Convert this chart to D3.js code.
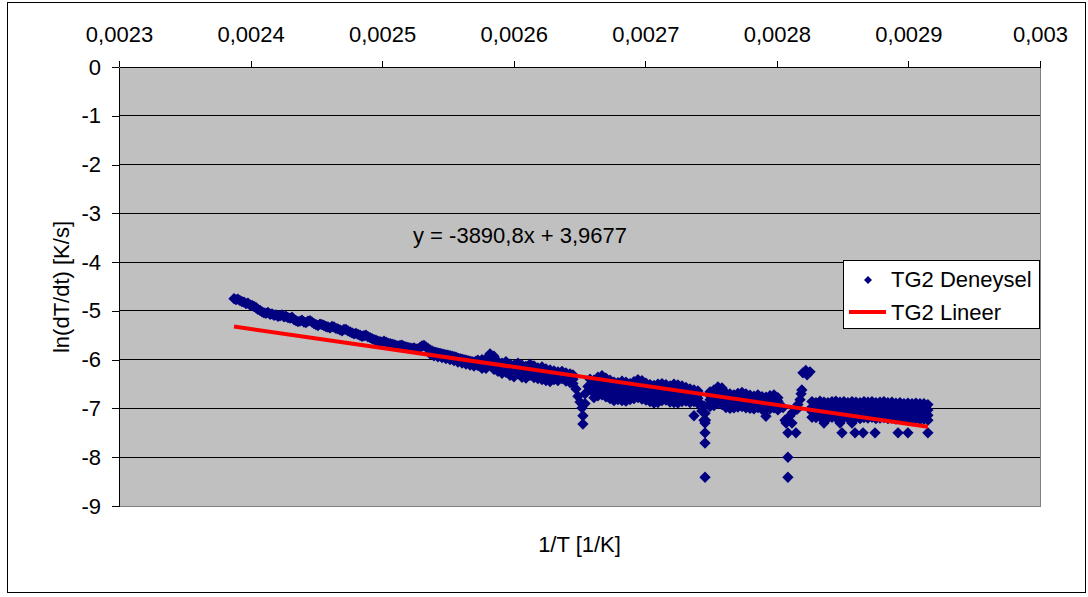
<!DOCTYPE html>
<html lang="tr">
<head>
  <meta charset="UTF-8">
  <title>TG2 ln(dT/dt) - 1/T</title>
  <style>
    body { margin: 0; background: #fff; }
    svg { display: block; font-family: Arial, "Liberation Sans", sans-serif; }
    .axis text { font-size: 22px; fill: #000; }
    .axis path, .axis line { stroke: #000; shape-rendering: crispEdges; }
    .grid line { stroke: #000; shape-rendering: crispEdges; }
    .title { font-size: 22px; fill: #000; }
  </style>
</head>
<body>
  <svg width="1088" height="597"></svg>

  <script src="https://d3js.org/d3.v7.min.js"></script>
  <script>
    // data: [1/T, ln(dT/dt) readings ...]
    const deneysel = [
      [0.0023874,-4.75],[0.0023889,-4.77],[0.0023904,-4.76],[0.0023920,-4.79],[0.0023935,-4.81],[0.0023950,-4.82],
      [0.0023965,-4.85],[0.0023980,-4.84],[0.0023996,-4.88],[0.0024011,-4.89],[0.0024026,-4.91],[0.0024041,-4.93],
      [0.0024056,-4.97],[0.0024072,-4.99],[0.0024087,-5.02],[0.0024102,-5.04],[0.0024117,-5.05],[0.0024132,-5.03],
      [0.0024148,-5.07],[0.0024163,-5.06],[0.0024178,-5.09],[0.0024193,-5.08],[0.0024208,-5.11],[0.0024224,-5.10],
      [0.0024239,-5.08],[0.0024254,-5.12],[0.0024269,-5.11],[0.0024284,-5.14],[0.0024300,-5.15],[0.0024315,-5.13],
      [0.0024330,-5.18],[0.0024345,-5.20],[0.0024360,-5.22],[0.0024376,-5.21],[0.0024391,-5.19],[0.0024406,-5.23],
      [0.0024421,-5.24],[0.0024436,-5.21],[0.0024452,-5.20],[0.0024467,-5.23],[0.0024482,-5.26],[0.0024497,-5.28],
      [0.0024512,-5.30],[0.0024528,-5.27],[0.0024543,-5.28],[0.0024558,-5.30],[0.0024573,-5.32],[0.0024588,-5.33],
      [0.0024604,-5.35],[0.0024619,-5.32],[0.0024634,-5.33],[0.0024649,-5.36],[0.0024664,-5.37],[0.0024680,-5.39],
      [0.0024695,-5.41],[0.0024710,-5.38],[0.0024725,-5.38],[0.0024740,-5.41],[0.0024756,-5.43],[0.0024771,-5.45],
      [0.0024786,-5.47],[0.0024801,-5.46],[0.0024816,-5.48],[0.0024832,-5.50],[0.0024847,-5.52],[0.0024862,-5.51],
      [0.0024877,-5.50],[0.0024892,-5.53],[0.0024908,-5.55],[0.0024923,-5.57],[0.0024938,-5.59],[0.0024953,-5.60],
      [0.0024968,-5.62],[0.0024984,-5.63],[0.0024999,-5.64],[0.0025014,-5.62],[0.0025029,-5.64],[0.0025044,-5.66],
      [0.0025060,-5.67],[0.0025075,-5.68],[0.0025090,-5.69],[0.0025105,-5.71],[0.0025120,-5.72],[0.0025136,-5.71],
      [0.0025151,-5.70],[0.0025166,-5.73],[0.0025181,-5.74],[0.0025196,-5.75],[0.0025212,-5.76],[0.0025227,-5.77],
      [0.0025242,-5.76],[0.0025257,-5.78],[0.0025272,-5.78],[0.0025288,-5.75],[0.0025303,-5.72],[0.0025318,-5.71],
      [0.0025333,-5.74],[0.0025348,-5.77],[0.0025364,-5.80,-5.88],[0.0025379,-5.82],[0.0025394,-5.84,-5.92],
      [0.0025409,-5.85],[0.0025424,-5.86,-5.94],[0.0025440,-5.87],[0.0025455,-5.88,-5.96],[0.0025470,-5.89],
      [0.0025485,-5.90,-5.98],[0.0025500,-5.91],[0.0025516,-5.92,-6.00],[0.0025531,-5.93],[0.0025546,-5.94,-6.02],
      [0.0025561,-5.95],[0.0025576,-5.97,-6.05],[0.0025592,-5.98],[0.0025607,-5.99,-6.07],[0.0025622,-6.00],
      [0.0025637,-6.01,-6.09],[0.0025652,-6.02],[0.0025668,-6.03,-6.11],[0.0025683,-6.04],[0.0025698,-6.05,-6.13],
      [0.0025713,-6.03],[0.0025728,-6.01,-6.12],[0.0025744,-6.04],[0.0025759,-6.00,-6.18],
      [0.0025789,-5.98,-6.08,-6.18],[0.0025820,-5.88,-6.00,-6.10],[0.0025850,-5.93,-6.06,-6.20],[0.0025880,-6.04,-6.14,-6.24],
      [0.0025911,-6.07,-6.18,-6.28],[0.0025941,-6.04,-6.15,-6.26],[0.0025972,-6.09,-6.20,-6.32],[0.0026002,-6.11,-6.23,-6.35],
      [0.0026032,-6.07,-6.18,-6.29],[0.0026063,-6.11,-6.24,-6.36],[0.0026093,-6.14,-6.26,-6.38],[0.0026124,-6.09,-6.21,-6.32],
      [0.0026154,-6.13,-6.25,-6.37],[0.0026184,-6.17,-6.28,-6.39],[0.0026215,-6.15,-6.28,-6.41],[0.0026245,-6.19,-6.31,-6.43],
      [0.0026276,-6.21,-6.33,-6.45],[0.0026306,-6.23,-6.32,-6.41],[0.0026336,-6.25,-6.34,-6.43],[0.0026367,-6.24,-6.32,-6.39],
      [0.0026397,-6.27,-6.36,-6.44],[0.0026428,-6.29,-6.38,-6.47],[0.0026450,-6.31,-6.40,-6.49],
      [0.0026473,-6.60],[0.0026488,-6.75],[0.0026504,-6.87],[0.0026519,-6.99],[0.0026526,-7.15,-7.32],
      [0.0026542,-6.90,-6.70],[0.0026564,-6.55],[0.0026580,-6.40,-6.60],
      [0.0026610,-6.42,-6.51,-6.60,-6.69,-6.78],[0.0026640,-6.36,-6.46,-6.55,-6.65,-6.74],[0.0026671,-6.33,-6.43,-6.52,-6.62,-6.72],
      [0.0026701,-6.38,-6.48,-6.57,-6.67,-6.76],[0.0026732,-6.42,-6.52,-6.62,-6.71,-6.80],[0.0026762,-6.46,-6.55,-6.64,-6.74,-6.84],
      [0.0026792,-6.47,-6.57,-6.66,-6.74,-6.82],[0.0026823,-6.44,-6.54,-6.63,-6.74,-6.84],[0.0026853,-6.46,-6.56,-6.65,-6.75,-6.85],
      [0.0026884,-6.49,-6.58,-6.67,-6.75,-6.82],[0.0026914,-6.45,-6.54,-6.63,-6.72,-6.80],[0.0026944,-6.41,-6.51,-6.60,-6.69,-6.78],
      [0.0026975,-6.43,-6.53,-6.62,-6.72,-6.81],[0.0027005,-6.48,-6.57,-6.66,-6.75,-6.83],[0.0027036,-6.51,-6.60,-6.68,-6.77,-6.86],
      [0.0027066,-6.53,-6.62,-6.71,-6.80,-6.89],[0.0027096,-6.50,-6.60,-6.69,-6.79,-6.88],[0.0027127,-6.49,-6.58,-6.67,-6.76,-6.84],
      [0.0027157,-6.51,-6.60,-6.69,-6.76,-6.83],[0.0027188,-6.54,-6.63,-6.72,-6.80,-6.87],[0.0027218,-6.50,-6.59,-6.68,-6.78,-6.88],
      [0.0027248,-6.52,-6.61,-6.70,-6.80,-6.89],[0.0027279,-6.54,-6.63,-6.72,-6.79,-6.86],[0.0027309,-6.57,-6.66,-6.74,-6.80,-6.85],
      [0.0027340,-6.60,-6.68,-6.76,-6.82,-6.88],[0.0027370,-6.62,-6.70,-6.78,-6.86,-7.15],[0.0027400,-6.64,-6.72,-6.79,-6.85,-6.90],
      [0.0027430,-7.05],[0.0027446,-6.95,-7.24],[0.0027454,-7.10,-7.30,-7.50,-7.71,-8.41],[0.0027458,-7.24],
      [0.0027492,-6.66,-6.74,-6.82,-6.89,-6.96],[0.0027522,-6.62,-6.70,-6.79,-6.87,-6.94],[0.0027552,-6.56,-6.64,-6.72,-6.81,-6.90],
      [0.0027583,-6.58,-6.67,-6.75,-6.84,-6.92],[0.0027613,-6.68,-6.76,-6.84,-6.91,-6.98],[0.0027644,-6.70,-6.78,-6.86,-6.93,-7.00],
      [0.0027674,-6.72,-6.80,-6.87,-6.93,-6.99],[0.0027704,-6.69,-6.77,-6.84,-6.91,-6.97],[0.0027735,-6.67,-6.75,-6.83,-6.90,-6.96],
      [0.0027765,-6.70,-6.78,-6.85,-6.92,-6.99],[0.0027796,-6.73,-6.81,-6.88,-6.94,-7.00],[0.0027826,-6.75,-6.82,-6.89,-6.95,-7.01],
      [0.0027856,-6.72,-6.80,-6.87,-6.93,-6.98],[0.0027887,-6.76,-6.83,-6.90,-6.96,-7.02],[0.0027917,-6.77,-6.84,-6.91,-7.00,-7.16],
      [0.0027948,-6.74,-6.81,-6.88,-6.95,-7.01],[0.0027978,-6.72,-6.79,-6.86,-6.93,-6.99],[0.0028008,-6.78,-6.85,-6.92,-6.98,-7.03],
      [0.0028047,-6.98],[0.0028062,-7.24],[0.0028070,-7.30],[0.0028084,-7.50,-8.00,-8.41],[0.0028100,-7.15],
      [0.0028115,-7.30],[0.0028120,-7.08],[0.0028145,-7.50],[0.0028153,-7.02],[0.0028160,-6.92],
      [0.0028176,-6.82],[0.0028184,-6.70],[0.0028190,-6.62],[0.0028198,-6.27],[0.0028220,-6.22],
      [0.0028252,-6.25],[0.0028230,-6.31],
      [0.0028267,-6.86,-6.97,-7.07,-7.18],[0.0028297,-6.88,-6.98,-7.09,-7.19],[0.0028328,-6.85,-6.96,-7.06,-7.17],
      [0.0028358,-6.87,-6.97,-7.08,-7.30],[0.0028388,-6.88,-6.99,-7.10,-7.20],[0.0028419,-6.86,-6.96,-7.07,-7.18],
      [0.0028449,-6.85,-6.97,-7.08,-7.19],[0.0028480,-6.87,-6.98,-7.09,-7.30],[0.0028495,-7.50],
      [0.0028510,-6.86,-6.97,-7.07,-7.18],[0.0028540,-6.88,-6.99,-7.10,-7.20],[0.0028571,-6.86,-6.96,-7.07,-7.30],
      [0.0028594,-7.50],[0.0028601,-6.87,-6.98,-7.09,-7.19],[0.0028632,-6.88,-6.99,-7.10,-7.21],
      [0.0028655,-7.50],[0.0028662,-6.86,-6.97,-7.08,-7.19],[0.0028692,-6.87,-6.98,-7.09,-7.20],
      [0.0028723,-6.86,-6.97,-7.08,-7.18],[0.0028746,-7.50],[0.0028753,-6.88,-6.99,-7.10,-7.21],
      [0.0028784,-6.87,-6.98,-7.09,-7.20],[0.0028814,-6.86,-6.97,-7.07,-7.19],[0.0028844,-6.88,-6.99,-7.10,-7.21],
      [0.0028875,-6.87,-6.98,-7.09,-7.20],[0.0028905,-6.89,-7.00,-7.11,-7.22],[0.0028921,-7.50],
      [0.0028936,-6.88,-6.99,-7.10,-7.21],[0.0028966,-6.90,-7.01,-7.11,-7.22],[0.0028996,-6.89,-7.00,-7.10,-7.22,-7.50],
      [0.0029027,-6.90,-7.01,-7.12,-7.22],[0.0029057,-6.89,-7.00,-7.11,-7.21],[0.0029088,-6.90,-7.02,-7.12,-7.23],
      [0.0029118,-6.90,-7.01,-7.12,-7.22],[0.0029148,-6.92,-7.03,-7.14,-7.24,-7.50]
    ];

    // linear fit shown on the chart
    const slope = -3890.8;
    const intercept = 3.9677;

    const xTicks = [0.0023, 0.0024, 0.0025, 0.0026, 0.0027, 0.0028, 0.0029, 0.003];
    const yTicks = [0, -1, -2, -3, -4, -5, -6, -7, -8, -9];
    const seriesNames = ["TG2 Deneysel", "TG2 Lineer"];

    const tr = d3.formatLocale({ decimal: ",", thousands: ".", grouping: [3], currency: ["", ""], minus: "-" });
    const fmt = tr.format("~g");

    const points = deneysel.flatMap(r => r.slice(1).map(v => ({ x: r[0], y: v })));

    const svg = d3.select("svg");
    const plotL = 119, plotR = 1040, plotT = 67, plotB = 506;

    const x = d3.scaleLinear().domain([0.0023, 0.003]).range([plotL, plotR]);
    const y = d3.scaleLinear().domain([-9, 0]).range([plotB, plotT]);

    // chart frame
    svg.append("rect")
      .attr("x", 7.5).attr("y", 2.5)
      .attr("width", 1078).attr("height", 590)
      .attr("fill", "#fff").attr("stroke", "#000");

    // plot area
    svg.append("rect")
      .attr("x", plotL).attr("y", plotT)
      .attr("width", plotR - plotL).attr("height", plotB - plotT)
      .attr("fill", "#c0c0c0").attr("stroke", "#808080")
      .attr("shape-rendering", "crispEdges");

    svg.append("g").attr("class", "grid")
      .selectAll("line")
      .data(yTicks.filter(d => d !== 0 && d !== -9))
      .join("line")
      .attr("x1", plotL).attr("x2", plotR)
      .attr("y1", d => y(d)).attr("y2", d => y(d));

    svg.append("g").attr("class", "axis")
      .attr("transform", `translate(0,${plotT})`)
      .call(d3.axisTop(x).tickValues(xTicks).tickFormat(fmt).tickSize(6).tickSizeOuter(0).tickPadding(19));

    svg.append("g").attr("class", "axis")
      .attr("transform", `translate(${plotL},0)`)
      .call(d3.axisLeft(y).tickValues(yTicks).tickFormat(fmt).tickSize(7).tickSizeOuter(0).tickPadding(11));

    // data markers
    const diamond = d3.symbol(d3.symbolSquare, 64);
    svg.append("g")
      .selectAll("path")
      .data(points)
      .join("path")
      .attr("d", diamond)
      .attr("transform", d => `translate(${x(d.x)},${y(d.y)}) rotate(45)`)
      .attr("fill", "#000080");

    // trend line over the data range
    const xr = d3.extent(points, d => d.x);
    svg.append("line")
      .attr("x1", x(xr[0])).attr("y1", y(slope * xr[0] + intercept))
      .attr("x2", x(xr[1])).attr("y2", y(slope * xr[1] + intercept))
      .attr("stroke", "#ff0000").attr("stroke-width", 4);

    svg.append("text").attr("class", "title")
      .attr("x", 413).attr("y", 243)
      .text("y = " + tr.format(".1f")(slope) + "x + " + tr.format(".4f")(intercept));

    svg.append("text").attr("class", "title")
      .attr("x", (plotL + plotR) / 2).attr("y", 552)
      .attr("text-anchor", "middle")
      .text("1/T [1/K]");

    svg.append("text").attr("class", "title")
      .attr("transform", "translate(69,287) rotate(-90)")
      .attr("text-anchor", "middle")
      .text("ln(dT/dt) [K/s]");

    // legend
    const legend = svg.append("g");
    legend.append("rect")
      .attr("x", 843.5).attr("y", 260.5).attr("width", 196).attr("height", 68)
      .attr("fill", "#fff").attr("stroke", "#000");
    legend.append("path")
      .attr("d", d3.symbol(d3.symbolSquare, 32))
      .attr("transform", "translate(868,280) rotate(45)")
      .attr("fill", "#000080");
    legend.append("line")
      .attr("x1", 849).attr("x2", 886).attr("y1", 312).attr("y2", 312)
      .attr("stroke", "#ff0000").attr("stroke-width", 4);
    legend.selectAll("text.leg")
      .data(seriesNames)
      .join("text")
      .attr("class", "title leg")
      .attr("x", 891)
      .attr("y", (d, i) => 287 + i * 33)
      .text(d => d);
  </script>
</body>
</html>
